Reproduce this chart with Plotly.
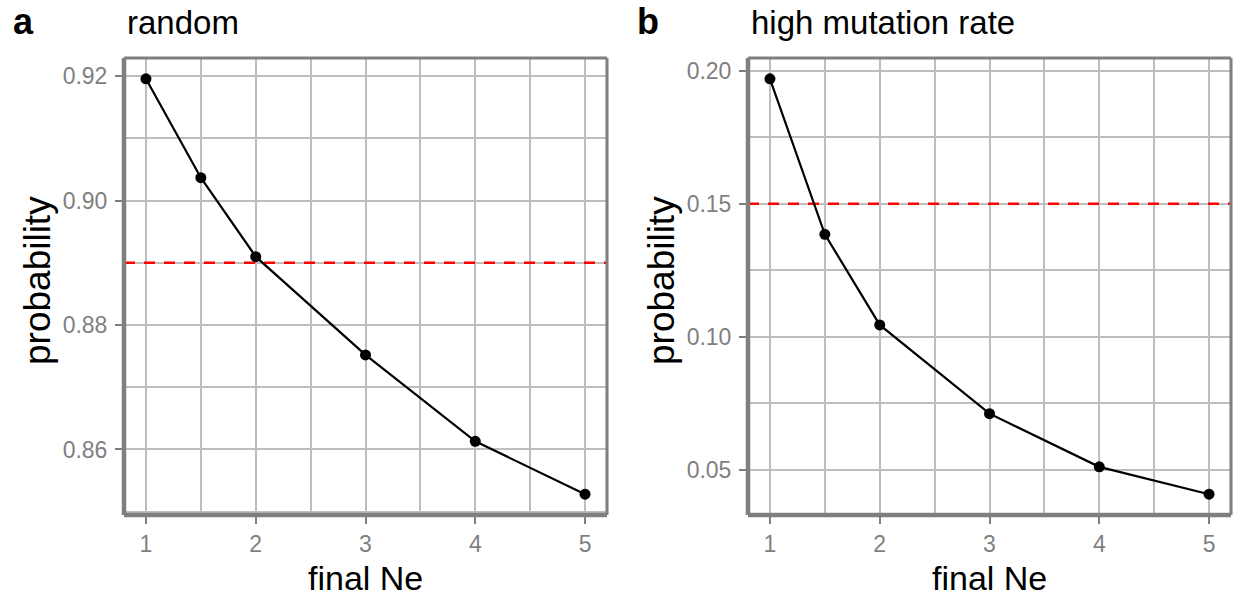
import plotly.graph_objects as go

# ---------------- data ----------------
final_ne = [1, 1.5, 2, 3, 4, 5]
prob_random = [0.9196, 0.9037, 0.8910, 0.8752, 0.8613, 0.8528]
prob_high_mut = [0.1970, 0.1385, 0.1044, 0.0710, 0.0510, 0.0407]
threshold_random = 0.89
threshold_high_mut = 0.15

panel_titles = ["random", "high mutation rate"]
panel_tags = ["a", "b"]
x_tick_vals = [1, 2, 3, 4, 5]
y_tick_vals_random = [0.86, 0.88, 0.90, 0.92]
y_tick_text_random = ["0.86", "0.88", "0.90", "0.92"]
y_tick_vals_high = [0.05, 0.10, 0.15, 0.20]
y_tick_text_high = ["0.05", "0.10", "0.15", "0.20"]
x_title = "final Ne"
y_title = "probability"

# ---------------- layout helpers ----------------
W, H = 1238, 598
FONT = "Liberation Sans, Arial, Helvetica, sans-serif"
GRID = "#bebebe"
AXC = "#7f7f7f"


def px_x(p):
    return p / W


def px_y(p):
    return 1 - p / H


def expand(vals, mult=0.05):
    lo, hi = min(vals), max(vals)
    pad = (hi - lo) * mult
    return [lo - pad, hi + pad]


panels = [
    dict(xd=[124, 607], y=prob_random, thr=threshold_random,
         yt=y_tick_vals_random, ytt=y_tick_text_random, ydt=0.01),
    dict(xd=[748, 1231], y=prob_high_mut, thr=threshold_high_mut,
         yt=y_tick_vals_high, ytt=y_tick_text_high, ydt=0.025),
]
y_dom = [px_y(515), px_y(58)]

fig = go.Figure()
shapes = []
annotations = []

for i, p in enumerate(panels):
    sfx = "" if i == 0 else str(i + 1)
    xa, ya = "x" + sfx, "y" + sfx
    xr = expand(final_ne)
    yr = expand(p["y"])

    # red dashed threshold line spanning the whole panel
    fig.add_trace(go.Scatter(
        x=xr, y=[p["thr"], p["thr"]], xaxis=xa, yaxis=ya, mode="lines",
        line=dict(color="#ff0000", width=2.5, dash="11px,9px"),
        showlegend=False, hoverinfo="skip", cliponaxis=True,
    ))
    fig.add_trace(go.Scatter(
        x=final_ne, y=p["y"], xaxis=xa, yaxis=ya, mode="lines+markers",
        line=dict(color="black", width=2.2),
        marker=dict(color="black", size=11),
        showlegend=False, hoverinfo="skip", cliponaxis=False,
    ))

    common = dict(
        showline=False, zeroline=False, showgrid=True, gridcolor=GRID, gridwidth=2,
        ticks="outside", ticklen=8, tickwidth=2, tickcolor=AXC,
        tickfont=dict(family=FONT, size=23, color=AXC),
        fixedrange=True,
    )
    fig.update_layout(**{
        "xaxis" + sfx: dict(
            domain=[px_x(p["xd"][0]), px_x(p["xd"][1])], range=xr,
            anchor=ya, tickvals=x_tick_vals, ticktext=[str(v) for v in x_tick_vals],
            ticklabelstandoff=0,
            minor=dict(dtick=0.5, tick0=0.5, showgrid=True, gridcolor=GRID,
                       gridwidth=2),
            **common),
        "yaxis" + sfx: dict(
            domain=y_dom, range=yr, anchor=xa,
            tickvals=p["yt"], ticktext=p["ytt"],
            ticklabelstandoff=3,
            minor=dict(dtick=p["ydt"], tick0=0, showgrid=True, gridcolor=GRID,
                       gridwidth=2),
            **common),
    })

    xl, xrp = px_x(p["xd"][0]), px_x(p["xd"][1])
    # panel border (top/right)
    shapes.append(dict(type="line", xref="paper", yref="paper",
                       x0=xl, x1=xrp, y0=y_dom[1], y1=y_dom[1],
                       line=dict(color=AXC, width=3), layer="above"))
    shapes.append(dict(type="line", xref="paper", yref="paper",
                       x0=xrp, x1=xrp, y0=y_dom[0], y1=y_dom[1],
                       line=dict(color=AXC, width=3), layer="above"))
    # axis lines (left/bottom, thicker)
    shapes.append(dict(type="line", xref="paper", yref="paper",
                       x0=xl, x1=xl, y0=y_dom[0], y1=y_dom[1],
                       line=dict(color=AXC, width=4.5), layer="above"))
    shapes.append(dict(type="line", xref="paper", yref="paper",
                       x0=xl, x1=xrp, y0=y_dom[0], y1=y_dom[0],
                       line=dict(color=AXC, width=4.5), layer="above"))

    left_px = p["xd"][0]
    cx = (p["xd"][0] + p["xd"][1]) / 2
    # panel title
    annotations.append(dict(text=panel_titles[i], xref="paper", yref="paper",
                            x=px_x(left_px + 1), y=px_y(23), xanchor="left",
                            yanchor="middle", showarrow=False,
                            font=dict(family=FONT, size=33, color="black")))
    # tag
    annotations.append(dict(text="<b>" + panel_tags[i] + "</b>", xref="paper",
                            yref="paper", x=px_x(left_px - 113), y=px_y(22),
                            xanchor="left", yanchor="middle", showarrow=False,
                            font=dict(family=FONT, size=36, color="black")))
    # x title
    annotations.append(dict(text=x_title, xref="paper", yref="paper",
                            x=px_x(cx), y=px_y(578), xanchor="center",
                            yanchor="middle", showarrow=False,
                            font=dict(family=FONT, size=34, color="black")))
    # y title
    annotations.append(dict(text=y_title, xref="paper", yref="paper",
                            x=px_x(left_px - 87), y=px_y(281), xanchor="center",
                            yanchor="middle", textangle=-90, showarrow=False,
                            font=dict(family=FONT, size=37, color="black")))

fig.update_layout(
    width=W, height=H, margin=dict(l=0, r=0, t=0, b=0),
    paper_bgcolor="white", plot_bgcolor="white",
    shapes=shapes, annotations=annotations, hovermode=False,
)

fig.write_html("out.html", config={"displayModeBar": False})
